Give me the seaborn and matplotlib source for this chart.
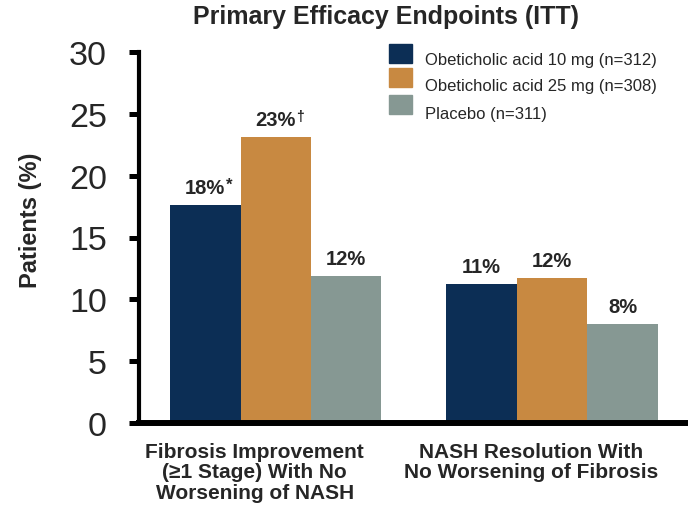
import matplotlib
matplotlib.use("Agg")
import matplotlib.pyplot as plt
from matplotlib.patches import Rectangle
from matplotlib.transforms import ScaledTranslation
import seaborn as sns
import pandas as pd

# Endpoint categories and treatment arms
endpoints = [
    "Fibrosis Improvement\n(\u22651 Stage) With No\nWorsening of NASH",
    "NASH Resolution With\nNo Worsening of Fibrosis",
]
arms = [
    "Obeticholic acid 10 mg (n=312)",
    "Obeticholic acid 25 mg (n=308)",
    "Placebo (n=311)",
]
# Percent of patients reaching each endpoint, per arm
ocaliva_10 = [17.6, 11.2]
ocaliva_25 = [23.1, 11.7]
placebo = [11.9, 8.0]
# Significance marks shown after the value labels
marks_10 = ["*", ""]
marks_25 = ["\u2020", ""]
marks_pl = ["", ""]
yticks = [0, 5, 10, 15, 20, 25, 30]

colors = ["#0C2E55", "#C88941", "#869893"]

rows = []
for vals, marks, arm in [(ocaliva_10, marks_10, arms[0]),
                         (ocaliva_25, marks_25, arms[1]),
                         (placebo, marks_pl, arms[2])]:
    for ep, v, m in zip(endpoints, vals, marks):
        rows.append({"endpoint": ep, "arm": arm, "pct": v, "mark": m})
df = pd.DataFrame(rows)

sns.set_style("white")
plt.rcParams["font.family"] = ["Liberation Sans", "DejaVu Sans"]

W, H = 688, 506
fig = plt.figure(figsize=(W / 100, H / 100), dpi=100)
ax = fig.add_axes([139 / W, 1 - 424 / H, 1 - 139 / W, (424 - 53) / H])

sns.barplot(data=df, x="endpoint", y="pct", hue="arm", order=endpoints,
            hue_order=arms, palette=colors, saturation=1, width=0.765,
            linewidth=0, ax=ax)

ax.set_ylim(0, 30)
ax.set_xlim(-0.495, 1.492)
ax.set_yticks(yticks)
ax.set_yticklabels([str(t) for t in yticks], fontsize=24.5)
ax.set_xlabel("")
ax.set_ylabel("")
ax.tick_params(axis="y", which="major", left=True, length=7, width=3.6,
               pad=16, color="black")
ax.tick_params(axis="x", which="major", bottom=False, pad=10)
# Category names sit a little left of their bar groups
shift = ScaledTranslation(-0.21, 0, fig.dpi_scale_trans)
for lbl in ax.get_xticklabels():
    lbl.set_fontsize(15)
    lbl.set_fontweight("bold")
    lbl.set_linespacing(1.1)
    lbl.set_va("top")
    lbl.set_transform(lbl.get_transform() + shift)

for side in ["top", "right"]:
    ax.spines[side].set_visible(False)
ax.spines["left"].set_linewidth(3.0)
ax.spines["bottom"].set_linewidth(4.3)
ax.spines["left"].set_color("black")
ax.spines["bottom"].set_color("black")

# Value labels above each bar, with trailing significance marks
for container, arm in zip(ax.containers, arms):
    sub = df[df["arm"] == arm].set_index("endpoint").loc[endpoints]
    for bar, v, m in zip(container, sub["pct"], sub["mark"]):
        xc = bar.get_x() + bar.get_width() / 2
        t = ax.annotate(f"{round(v):.0f}%", (xc, v), xytext=(0, 6),
                        textcoords="offset points", ha="center", va="bottom",
                        fontsize=14.5, fontweight="bold")
        if m:
            ax.annotate(m, xy=(1, 1), xycoords=t, xytext=(0, 1),
                        textcoords="offset points", ha="left", va="top",
                        fontsize=12 if m == "*" else 10, fontweight="bold")

ax.get_legend().remove()

# Legend: colour swatches with their arm names
patch_tops = [45, 69, 96]
text_centers = [60, 87, 114]
for c, arm, top, tc in zip(colors, arms, patch_tops, text_centers):
    fig.patches.append(Rectangle((389 / W, 1 - (top + 19) / H), 23 / W, 19 / H,
                                 transform=fig.transFigure, color=c))
    fig.text(425 / W, 1 - tc / H, arm, ha="left", va="center", fontsize=12)

fig.text(386 / W, 1 - 17 / H, "Primary Efficacy Endpoints (ITT)",
         ha="center", va="center", fontsize=18, fontweight="bold")
fig.text(31 / W, 1 - 220 / H, "Patients (%)", rotation=90,
         ha="center", va="center", fontsize=17, fontweight="bold")

fig.savefig("out.png", dpi=100)
